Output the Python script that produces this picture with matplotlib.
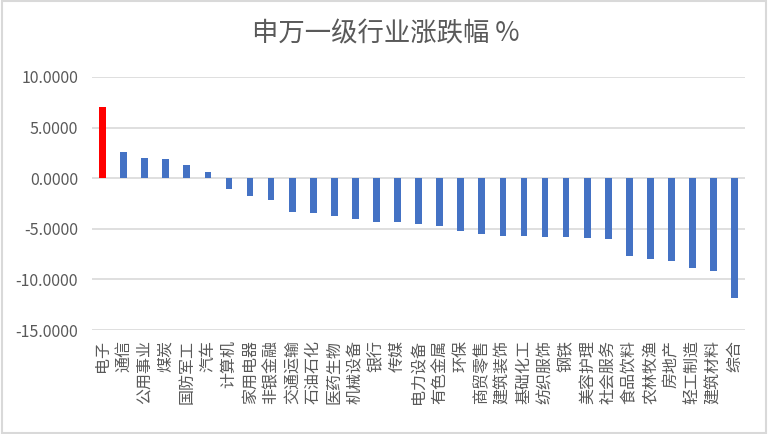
import matplotlib
matplotlib.use("Agg")
import matplotlib.pyplot as plt
from matplotlib.patches import Rectangle

plt.rcParams['font.family'] = ['Noto Sans CJK SC', 'DejaVu Sans']

# Shenwan level-1 industries, weekly change (%)
industries = ['电子', '通信', '公用事业', '煤炭', '国防军工', '汽车', '计算机', '家用电器',
              '非银金融', '交通运输', '石油石化', '医药生物', '机械设备', '银行', '传媒',
              '电力设备', '有色金属', '环保', '商贸零售', '建筑装饰', '基础化工', '纺织服饰',
              '钢铁', '美容护理', '社会服务', '食品饮料', '农林牧渔', '房地产', '轻工制造',
              '建筑材料', '综合']
changes = [7.05, 2.62, 2.02, 1.92, 1.32, 0.66, -1.10, -1.71,
           -2.11, -3.30, -3.42, -3.70, -4.00, -4.28, -4.28,
           -4.48, -4.75, -5.25, -5.55, -5.75, -5.75, -5.85,
           -5.85, -5.95, -6.05, -7.64, -8.00, -8.14, -8.84,
           -9.14, -11.80]
yticks = [-15, -10, -5, 0, 5, 10]

text_color = '#595959'
colors = ['#FF0000' if i == 0 else '#4472C4' for i in range(len(industries))]

fig = plt.figure(figsize=(7.68, 4.34), dpi=100)
ax = fig.add_axes([0.1198, 0.2396, 0.8505, 0.583])

x = list(range(len(industries)))
ax.bar(x, changes, width=0.32, color=colors, zorder=3)

ax.set_xlim(-0.5, len(industries) - 0.5)
ax.set_ylim(-15, 10)
ax.set_yticks(yticks)
ax.set_yticklabels([f'{v:.4f}' for v in yticks], fontsize=11.5, color=text_color)
ax.set_xticks(x)
ax.set_xticklabels(industries, rotation=90, fontsize=11.5, color=text_color, va='top')
ax.tick_params(axis='both', length=0)
ax.tick_params(axis='x', pad=7)
ax.tick_params(axis='y', pad=10)
ax.grid(axis='y', color='#D9D9D9', linewidth=1.2, zorder=0)
for s in ax.spines.values():
    s.set_visible(False)

fig.text(0.502, 0.922, '申万一级行业涨跌幅 %', ha='center', va='center',
         fontsize=19, color=text_color)

# chart area border
fig.patches.append(Rectangle((0.002, 0.003), 0.996, 0.994, transform=fig.transFigure,
                             fill=False, edgecolor='#D9D9D9', linewidth=1.5))

fig.savefig('out.png', dpi=100)
plt.close(fig)
